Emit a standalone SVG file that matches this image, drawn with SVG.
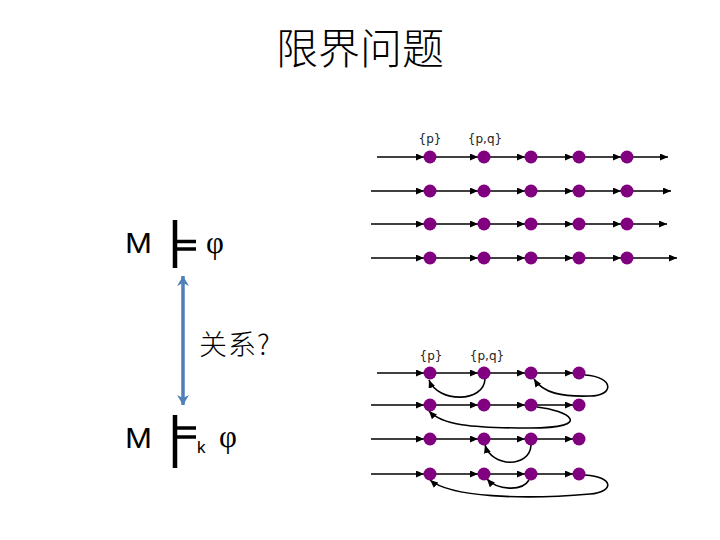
<svg xmlns="http://www.w3.org/2000/svg" width="720" height="540" viewBox="0 0 720 540">
<defs>
<marker id="ah" markerUnits="userSpaceOnUse" markerWidth="9" markerHeight="7" refX="8" refY="3.5" orient="auto"><path d="M0,0 L8,3.5 L0,7 z" fill="#000"/></marker>
<marker id="bh" markerUnits="userSpaceOnUse" markerWidth="12" markerHeight="12" refX="10" refY="6" orient="auto-start-reverse"><path d="M0,0 L10,6 L0,12 L3,6 z" fill="#4f7fb8"/></marker>
<style>
.ln{stroke:#000;stroke-width:1.6;fill:none;marker-end:url(#ah)}
.nd{fill:#800080}
.lbl{font-family:"DejaVu Sans",sans-serif;font-size:12px;fill:#222;text-anchor:middle}
.big{font-family:"Liberation Sans",Arial,sans-serif;font-size:30px;fill:#000}
.phi{font-family:"Liberation Serif",serif;font-size:31px;fill:#000}
.tb{stroke:#000;fill:none}
</style>
</defs>
<rect width="720" height="540" fill="#fff"/>
<g id="title"><text x="360" y="64" font-family="'Noto Sans CJK SC',sans-serif" font-size="42" font-weight="300" text-anchor="middle">限界问题</text></g>

<g id="formula-top">
<text class="big" x="125" y="253" textLength="27" lengthAdjust="spacingAndGlyphs">M</text>
<path class="tb" d="M175,220 V268" stroke-width="4.5"/>
<path class="tb" d="M175,241.5 H196 M175,249 H196" stroke-width="3.5"/>
<text class="phi" x="206" y="253">φ</text>
</g>
<g id="formula-bottom">
<text class="big" x="125" y="448" textLength="27" lengthAdjust="spacingAndGlyphs">M</text>
<path class="tb" d="M175,415 V468" stroke-width="4.5"/>
<path class="tb" d="M175,428 H196 M175,437 H196" stroke-width="3.5"/>
<text x="197" y="453" font-family="'Liberation Sans',sans-serif" font-size="17">k</text>
<text class="phi" x="219" y="447">φ</text>
</g>
<g id="relation">
<text x="199" y="355" font-family="'Noto Sans CJK SC',sans-serif" font-size="28" font-weight="300" letter-spacing="1">关系?</text>
</g>

<g id="connectors">
<path d="M183,276 V405" stroke="#4f7fb8" stroke-width="3.5" fill="none" marker-end="url(#bh)" marker-start="url(#bh)"/>
<!-- top rows -->
<path class="ln" d="M377,157 H424"/><path class="ln" d="M430,157 H478"/><path class="ln" d="M484,157 H525"/><path class="ln" d="M531,157 H573"/><path class="ln" d="M579,157 H621"/><path class="ln" d="M627,157 H668"/>
<path class="ln" d="M371,191 H424"/><path class="ln" d="M430,191 H478"/><path class="ln" d="M484,191 H525"/><path class="ln" d="M531,191 H573"/><path class="ln" d="M579,191 H621"/><path class="ln" d="M627,191 H671"/>
<path class="ln" d="M371,224 H424"/><path class="ln" d="M430,224 H478"/><path class="ln" d="M484,224 H525"/><path class="ln" d="M531,224 H573"/><path class="ln" d="M579,224 H621"/><path class="ln" d="M627,224 H667"/>
<path class="ln" d="M371,258 H424"/><path class="ln" d="M430,258 H478"/><path class="ln" d="M484,258 H525"/><path class="ln" d="M531,258 H573"/><path class="ln" d="M579,258 H621"/><path class="ln" d="M627,258 H677"/>
<!-- bottom rows -->
<path class="ln" d="M377,373 H424"/><path class="ln" d="M430,373 H478"/><path class="ln" d="M484,373 H525"/><path class="ln" d="M531,373 H573"/>
<path class="ln" d="M371,405 H424"/><path class="ln" d="M430,405 H478"/><path class="ln" d="M484,405 H525"/><path class="ln" d="M531,405 H573"/>
<path class="ln" d="M371,439 H424"/><path class="ln" d="M430,439 H478"/><path class="ln" d="M484,439 H525"/><path class="ln" d="M531,439 H573"/>
<path class="ln" d="M371,474 H424"/><path class="ln" d="M430,474 H478"/><path class="ln" d="M484,474 H525"/><path class="ln" d="M531,474 H573"/>
<!-- back edges -->
<path class="ln" d="M485,379 C484,403 438,403 429,380"/>
<path class="ln" d="M585,375 C615,377 614,396 590,396 C562,397 543,393 534,379"/>
<path class="ln" d="M537,407 C568,410 596,428 530,428 C470,428 442,425 429,411"/>
<path class="ln" d="M531,445 C530,468 492,468 485,445"/>
<path class="ln" d="M529,480 C522,492 497,490 487,479"/>
<path class="ln" d="M585,475 C615,477 614,492 590,494 C522,500 450,497 430,480"/>
</g>

<g id="nodes-top">
<circle class="nd" cx="430" cy="157" r="6.5"/><circle class="nd" cx="484" cy="157" r="6.5"/><circle class="nd" cx="531" cy="157" r="6.5"/><circle class="nd" cx="579" cy="157" r="6.5"/><circle class="nd" cx="627" cy="157" r="6.5"/>
<circle class="nd" cx="430" cy="191" r="6.5"/><circle class="nd" cx="484" cy="191" r="6.5"/><circle class="nd" cx="531" cy="191" r="6.5"/><circle class="nd" cx="579" cy="191" r="6.5"/><circle class="nd" cx="627" cy="191" r="6.5"/>
<circle class="nd" cx="430" cy="224" r="6.5"/><circle class="nd" cx="484" cy="224" r="6.5"/><circle class="nd" cx="531" cy="224" r="6.5"/><circle class="nd" cx="579" cy="224" r="6.5"/><circle class="nd" cx="627" cy="224" r="6.5"/>
<circle class="nd" cx="430" cy="258" r="6.5"/><circle class="nd" cx="484" cy="258" r="6.5"/><circle class="nd" cx="531" cy="258" r="6.5"/><circle class="nd" cx="579" cy="258" r="6.5"/><circle class="nd" cx="627" cy="258" r="6.5"/>
<text class="lbl" x="430" y="143">{p}</text><text class="lbl" x="485" y="143">{p,q}</text>
</g>
<g id="nodes-bottom">
<circle class="nd" cx="430" cy="373" r="6.5"/><circle class="nd" cx="484" cy="373" r="6.5"/><circle class="nd" cx="531" cy="373" r="6.5"/><circle class="nd" cx="579" cy="373" r="6.5"/>
<circle class="nd" cx="430" cy="405" r="6.5"/><circle class="nd" cx="484" cy="405" r="6.5"/><circle class="nd" cx="531" cy="405" r="6.5"/><circle class="nd" cx="579" cy="405" r="6.5"/>
<circle class="nd" cx="430" cy="439" r="6.5"/><circle class="nd" cx="484" cy="439" r="6.5"/><circle class="nd" cx="531" cy="439" r="6.5"/><circle class="nd" cx="579" cy="439" r="6.5"/>
<circle class="nd" cx="430" cy="474" r="6.5"/><circle class="nd" cx="484" cy="474" r="6.5"/><circle class="nd" cx="531" cy="474" r="6.5"/><circle class="nd" cx="579" cy="474" r="6.5"/>
<text class="lbl" x="431" y="360">{p}</text><text class="lbl" x="487" y="360">{p,q}</text>
</g>
</svg>
